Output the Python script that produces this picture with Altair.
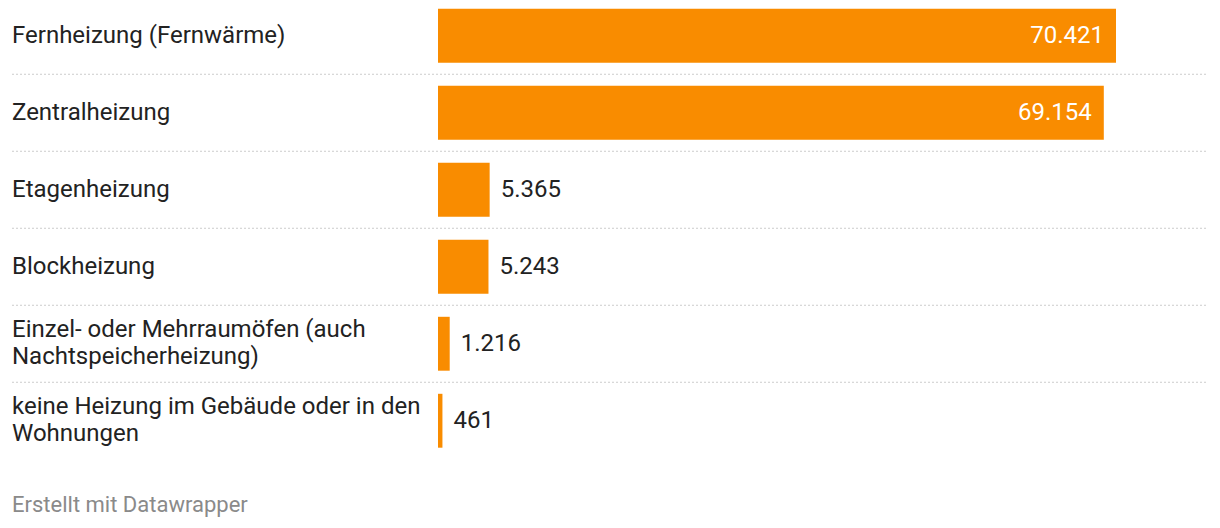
import altair as alt
import pandas as pd

categories = [
    "Fernheizung (Fernwärme)",
    "Zentralheizung",
    "Etagenheizung",
    "Blockheizung",
    "Einzel- oder Mehrraumöfen (auch\nNachtspeicherheizung)",
    "keine Heizung im Gebäude oder in den\nWohnungen",
]
values = [70421, 69154, 5365, 5243, 1216, 461]
footer = ["Erstellt mit Datawrapper"]

BAR = "#f98c00"
FONT = "Roboto"
TXT = "#222222"

df = pd.DataFrame({"cat": categories, "value": values})
df["label"] = [f"{v:,}".replace(",", ".") for v in values]
df["inside"] = df["value"] > max(values) * 0.3

xscale = alt.Scale(domain=[0, max(values)], range=[430, 1108])
yscale = alt.Scale(domain=categories, range=[-10.75, 451.25], paddingInner=0.3, paddingOuter=0.15)

base = alt.Chart(df)
y = alt.Y("cat:N", scale=yscale, axis=None, sort=categories)
xq = alt.X("value:Q", scale=xscale, axis=None)

bars = base.mark_bar(color=BAR).encode(x=xq, y=y)

multi = "indexof(datum.cat, '\\n') >= 0"

names1 = base.transform_filter("!(" + multi + ")").mark_text(
    align="left", baseline="middle", font=FONT, fontSize=24, color=TXT,
).encode(x=alt.value(4), y=y, text="cat:N")

names2 = base.transform_filter(multi).mark_text(
    align="left", baseline="middle", font=FONT, fontSize=24, color=TXT,
    lineBreak="\n", lineHeight=27, dy=-13.5,
).encode(x=alt.value(4), y=y, text="cat:N")

vin = base.transform_filter("datum.inside").mark_text(
    align="right", baseline="middle", font=FONT, fontSize=24, color="white", dx=-12,
).encode(x=xq, y=y, text="label:N")

vout = base.transform_filter("!datum.inside").mark_text(
    align="left", baseline="middle", font=FONT, fontSize=24, color=TXT, dx=11,
).encode(x=xq, y=y, text="label:N")

seps = alt.Chart(df.iloc[:-1]).mark_rule(
    color="#cccccc", strokeDash=[2, 2], strokeWidth=1, yOffset=11.55
).encode(
    x=alt.value(4), x2=alt.value(1200),
    y=alt.Y("cat:N", scale=yscale, axis=None, sort=categories, bandPosition=1),
)

foot = alt.Chart(pd.DataFrame({"t": footer})).mark_text(
    align="left", baseline="middle", font=FONT, fontSize=22, color="#8a8a8a",
).encode(x=alt.value(4), y=alt.value(497), text="t:N")

chart = alt.layer(seps, bars, names1, names2, vin, vout, foot).properties(
    width=1204, height=512, padding=0,
    autosize=alt.AutoSizeParams(type="none"),
).configure_view(stroke=None)

chart.save("out.html", embed_options={"renderer": "svg", "actions": False})
